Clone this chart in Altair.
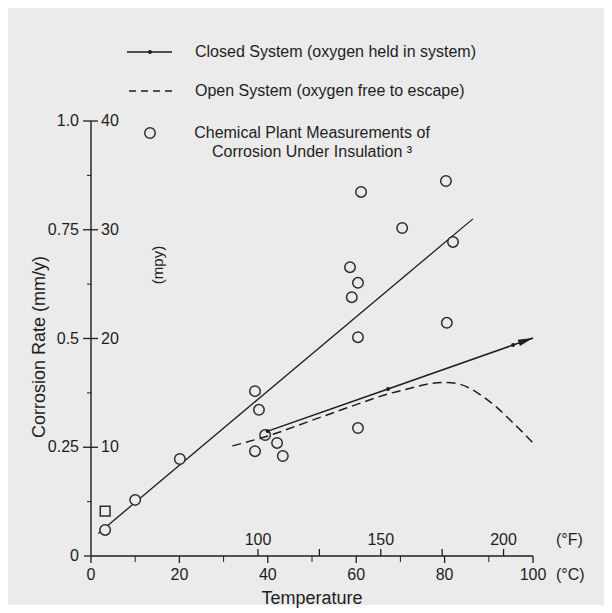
import altair as alt
import pandas as pd

# ---- data ---------------------------------------------------------------
# chemical plant measurements of corrosion under insulation (deg C, mm/y)
plant_temp = [3.2, 10.0, 20.1, 37.1, 38.0, 39.4, 37.1, 42.1, 43.4, 60.4,
              58.6, 60.4, 59.0, 60.4, 61.1, 70.4, 80.3, 81.9, 80.5]
plant_rate = [0.060, 0.129, 0.223, 0.379, 0.336, 0.278, 0.241, 0.260, 0.230, 0.294,
              0.664, 0.628, 0.595, 0.503, 0.837, 0.754, 0.862, 0.722, 0.536]
# one measurement drawn with a square symbol
square_temp = [3.2]
square_rate = [0.103]

# straight-line fit through the plant measurements
fit_temp = [1.65, 86.4]
fit_rate = [0.052, 0.775]

# closed system (oxygen held in system)
closed_temp = [40.0, 67.2, 95.5, 100.0]
closed_rate = [0.287, 0.384, 0.485, 0.501]

# open system (oxygen free to escape)
open_temp = [32, 40, 50, 60, 67, 72, 76, 80, 83, 86, 89, 92, 95, 98, 100.4]
open_rate = [0.253, 0.276, 0.312, 0.348, 0.372, 0.385, 0.395, 0.399, 0.396,
             0.384, 0.364, 0.340, 0.311, 0.281, 0.256]

# axis ticks
rate_major = [0.25, 0.5, 0.75, 1.0]
rate_labels_mm = ["0.25", "0.5", "0.75", "1.0"]
rate_labels_mpy = ["10", "20", "30", "40"]
rate_minor = [0.125, 0.375, 0.625, 0.875]
temp_major = [0, 20, 40, 60, 80, 100]
temp_minor = [10, 30, 50, 70, 90]
fahr_ticks = [100, 125, 150, 175, 200]
fahr_labels = ["100", "", "150", "", "200"]

# ---- styling ------------------------------------------------------------
W, H = 442, 435
BG = "#ebebeb"
INK = "#1e1e1e"
FONT = "Liberation Sans"

xs = alt.Scale(domain=[0, 100])
ys = alt.Scale(domain=[0, 1])


def X(field):
    return alt.X(field, type="quantitative", scale=xs, axis=None)


def Y(field):
    return alt.Y(field, type="quantitative", scale=ys, axis=None)


def label(txt, px, py, size=16, align="left", angle=None):
    kw = dict(font=FONT, fontSize=size, color=INK, align=align, baseline="middle")
    if angle is not None:
        kw["angle"] = angle
    return alt.Chart(pd.DataFrame({"t": [txt]})).mark_text(**kw).encode(
        x=alt.value(px), y=alt.value(py), text="t:N")


one = pd.DataFrame({"a": [0]})

frame = alt.Chart(one).mark_rect(color=BG).encode(
    x=alt.value(-83), x2=alt.value(513), y=alt.value(-113), y2=alt.value(484))

# ---- axes ---------------------------------------------------------------
ax_lines = alt.Chart(pd.DataFrame({"x0": [0, 0], "x1": [0, 100], "y0": [0, 0], "y1": [1, 0]})).mark_rule(
    color=INK, strokeWidth=1.4).encode(x=X("x0"), x2="x1", y=Y("y0"), y2="y1")

ymaj = pd.DataFrame({"v": rate_major, "mm": rate_labels_mm, "mpy": rate_labels_mpy})
y_ticks = alt.Chart(ymaj).mark_rule(color=INK, strokeWidth=1.3).encode(
    y=Y("v"), x=alt.value(-8), x2=alt.value(7))
y_zero_tick = alt.Chart(one).mark_rule(color=INK, strokeWidth=1.3).encode(
    y=alt.value(H), x=alt.value(-7), x2=alt.value(0))
y_minor_ticks = alt.Chart(pd.DataFrame({"v": rate_minor})).mark_rule(color=INK, strokeWidth=1).encode(
    y=Y("v"), x=alt.value(-4), x2=alt.value(0))
y_lab_mm = alt.Chart(ymaj).mark_text(font=FONT, fontSize=16, color=INK, align="right", baseline="middle").encode(
    y=Y("v"), x=alt.value(-12), text="mm:N")
y_lab_mpy = alt.Chart(ymaj).mark_text(font=FONT, fontSize=16, color=INK, align="left", baseline="middle").encode(
    y=Y("v"), x=alt.value(10), text="mpy:N")

xc = pd.DataFrame({"v": temp_major, "t": [str(v) for v in temp_major]})
x_ticks = alt.Chart(xc).mark_rule(color=INK, strokeWidth=1.3).encode(
    x=X("v"), y=alt.value(H), y2=alt.value(H + 7))
x_minor_ticks = alt.Chart(pd.DataFrame({"v": temp_minor})).mark_rule(color=INK, strokeWidth=1).encode(
    x=X("v"), y=alt.value(H), y2=alt.value(H + 6))
x_lab = alt.Chart(xc).mark_text(font=FONT, fontSize=16, color=INK, align="center", baseline="middle").encode(
    x=X("v"), y=alt.value(H + 19), text="t:N")

xf = pd.DataFrame({"f": fahr_ticks, "t": fahr_labels})
f_ticks = alt.Chart(xf).transform_calculate(c="(datum.f - 32) * 5 / 9").mark_rule(
    color=INK, strokeWidth=1.3).encode(x=X("c"), y=alt.value(H - 7), y2=alt.value(H))
f_lab = alt.Chart(xf).transform_calculate(c="(datum.f - 32) * 5 / 9").mark_text(
    font=FONT, fontSize=16, color=INK, align="center", baseline="middle").encode(
    x=X("c"), y=alt.value(H - 16), text="t:N")

# ---- series -------------------------------------------------------------
fit = alt.Chart(pd.DataFrame({"t": fit_temp, "r": fit_rate})).mark_line(
    color=INK, strokeWidth=1.3).encode(x=X("t"), y=Y("r"))

plant = alt.Chart(pd.DataFrame({"t": plant_temp, "r": plant_rate})).mark_point(
    shape="circle", size=110, filled=False, fill=BG, fillOpacity=1, stroke="#2e2e2e",
    strokeWidth=1.5, opacity=1).encode(x=X("t"), y=Y("r"))
square = alt.Chart(pd.DataFrame({"t": square_temp, "r": square_rate})).mark_point(
    shape="square", size=95, filled=False, fill=BG, fillOpacity=1, stroke="#2e2e2e",
    strokeWidth=1.5, opacity=1).encode(x=X("t"), y=Y("r"))

open_df = pd.DataFrame({"t": open_temp, "r": open_rate})
open_line = alt.Chart(open_df).mark_line(
    color=INK, strokeWidth=1.5, strokeDash=[9, 5], interpolate="monotone").encode(x=X("t"), y=Y("r"))

closed_df = pd.DataFrame({"t": closed_temp, "r": closed_rate})
closed_line = alt.Chart(closed_df).mark_line(color=INK, strokeWidth=1.5).encode(x=X("t"), y=Y("r"))
closed_dots = alt.Chart(closed_df.iloc[:-1]).mark_point(
    shape="circle", size=16, filled=True, color=INK, opacity=1).encode(x=X("t"), y=Y("r"))
arrow = alt.Chart(closed_df.iloc[-1:]).mark_point(
    shape="M-1,-0.45L1,0L-1,0.45Z", size=225, filled=True, color=INK, opacity=1,
    angle=341, xOffset=-7.1, yOffset=2.4).encode(x=X("t"), y=Y("r"))

# ---- legend -------------------------------------------------------------
leg_closed = alt.Chart(one).mark_rule(color=INK, strokeWidth=1.4).encode(
    x=alt.value(36), x2=alt.value(81), y=alt.value(-69))
leg_closed_dot = alt.Chart(one).mark_point(shape="circle", size=16, filled=True, color=INK, opacity=1).encode(
    x=alt.value(59), y=alt.value(-69))
leg_open = alt.Chart(one).mark_rule(color=INK, strokeWidth=1.4, strokeDash=[7, 5]).encode(
    x=alt.value(38), x2=alt.value(81), y=alt.value(-30))
leg_circle = alt.Chart(one).mark_point(shape="circle", size=110, filled=False, stroke="#2e2e2e",
                                       strokeWidth=1.5, opacity=1).encode(x=alt.value(59), y=alt.value(12))

texts = [
    label("Closed System (oxygen held in system)", 104, -69),
    label("Open System (oxygen free to escape)", 104, -30),
    label("Chemical Plant Measurements of", 221, 12, align="center"),
    label("Corrosion Under Insulation \u00b3", 221, 31, align="center"),
    label("(\u00b0F)", 465, H - 16),
    label("(\u00b0C)", 465, H + 19),
    label("Temperature", 221, H + 43, size=18, align="center"),
    label("Corrosion Rate  (mm/y)", -51, 226, size=18, align="center", angle=270),
    label("(mpy)", 67, 144, size=15, align="center", angle=270),
    label("0", -12, H, align="right"),
]

chart = alt.layer(
    frame, fit, plant, square, open_line, closed_line, closed_dots, arrow,
    ax_lines, y_ticks, y_zero_tick, y_minor_ticks, y_lab_mm, y_lab_mpy,
    x_ticks, x_minor_ticks, x_lab, f_ticks, f_lab,
    leg_closed, leg_closed_dot, leg_open, leg_circle, *texts,
).properties(
    width=W, height=H,
    padding={"left": 91, "top": 121, "right": 79, "bottom": 57},
    autosize=alt.AutoSizeParams(type="none"),
    background="white",
).configure_view(stroke=None)

chart.save("out.html", embed_options={"renderer": "svg", "actions": False})
